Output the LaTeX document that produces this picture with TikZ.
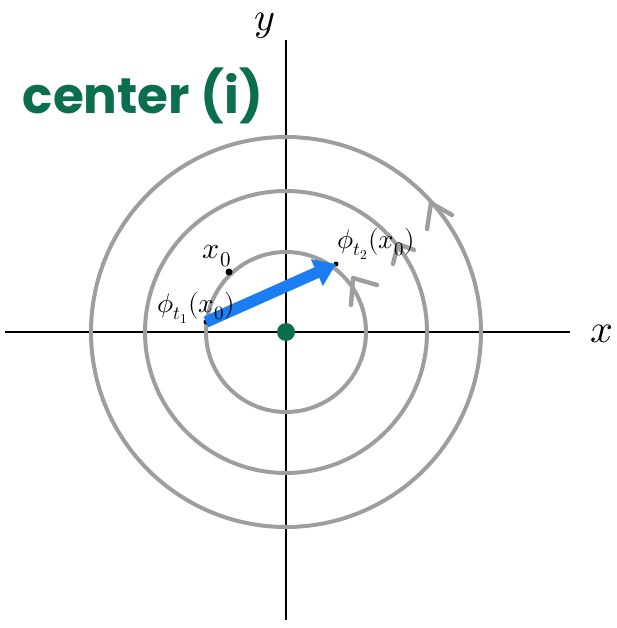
\documentclass[tikz,border=0pt]{standalone}
\usepackage{fontspec}
\usepackage{unicode-math}
\newfontfamily\handfont{Poppins}
\usetikzlibrary{arrows.meta}
\definecolor{ringgray}{HTML}{9E9E9E}
\definecolor{dgreen}{HTML}{0B6E4F}
\definecolor{arrblue}{HTML}{1A7DF2}
\begin{document}
\begin{tikzpicture}[x=1pt,y=-1pt,
  ring/.style={draw=ringgray,line width=4pt},
  axis/.style={draw=black,line width=1.8pt},
  chev/.style={draw=ringgray,line width=4.4pt,line cap=round,line join=round},
  lbl/.style={inner sep=0pt,font=\fontsize{27}{29}\selectfont},
  axlbl/.style={inner sep=0pt,font=\fontsize{40}{42}\selectfont},
  dotblk/.style={circle,fill=black,inner sep=0pt,minimum size=5pt},
  flow/.style={draw=arrblue,line width=11.5pt,-{Triangle[length=21pt,width=28pt]}}]
\useasboundingbox (0,0) rectangle (616,628);
\coordinate (O) at (286,332);
\coordinate (xL) at (5,332);
\coordinate (xR) at (570,332);
\coordinate (yT) at (286,40);
\coordinate (yB) at (286,620);
\draw[axis] (xL) -- (xR);
\draw[axis] (yT) -- (yB);
% rings
\draw[ring] (O) circle[radius=80pt];
\draw[ring] (O) circle[radius=141pt];
\draw[ring] (O) circle[radius=195pt];
% chevrons (counter-clockwise direction)
\coordinate (c1) at (353,278);
\draw[chev] (351,305) -- (c1) -- (377,285);
\coordinate (c2) at (398,244);
\draw[chev] (393,264) -- (c2) -- (414,250);
\coordinate (c3) at (431,203);
\draw[chev] (427,229) -- (c3) -- (452,215);
% points
\node[dotblk,minimum size=7pt] (x0) at (229,272) {};
\node[dotblk] (p1) at (206,322) {};
\node[dotblk] (p2) at (336,264) {};
\draw[flow] (p1.center) -- (p2.center);
% center
\node[circle,fill=dgreen,inner sep=0pt,minimum size=18pt] (ctr) at (O) {};
% labels
\node[axlbl] (ylab) at (265,26) {$y$};
\node[axlbl] (xlab) at (602,334) {$x$};
\node[lbl,font=\fontsize{30}{32}\selectfont] (x0lab) at (217,256) {$x_0$};
\node[lbl] (p1lab) at (196,308) {$\phi_{t_1}(x_0)$};
\node[lbl] (p2lab) at (376,244) {$\phi_{t_2}(x_0)$};
\node[inner sep=0pt,text=dgreen,font=\handfont\bfseries\fontsize{50}{52}\selectfont] (title) at (143,96) {center (i)};
\end{tikzpicture}
\end{document}
